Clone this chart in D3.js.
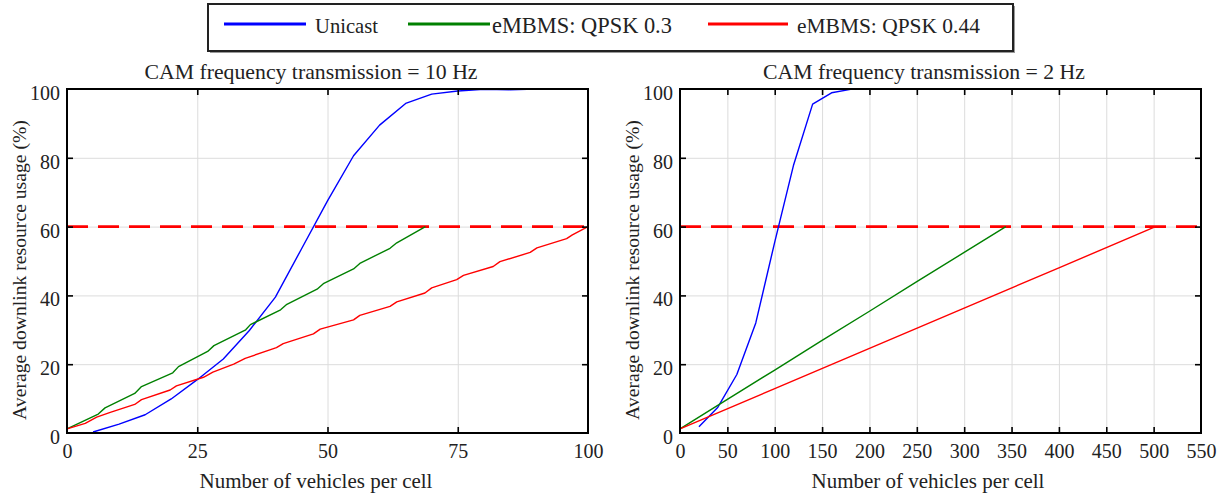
<!DOCTYPE html>
<html>
<head>
<meta charset="utf-8">
<script src="https://cdn.jsdelivr.net/npm/d3@7"></script>
<style>
  svg, svg text, svg g { font-family: "Liberation Serif", "Noto Serif", "DejaVu Serif", serif; }
</style>
</head>
<body style="margin:0;padding:0;background:#fff">
<svg id="chart" width="1227" height="497" style="display:block" font-family="Liberation Serif, Noto Serif, DejaVu Serif, serif"></svg>
<script>
// ---------------- DATA ----------------
const seriesNames = ["Unicast", "eMBMS: QPSK 0.3", "eMBMS: QPSK 0.44"];
const panelTitles = ["CAM frequency transmission = 10 Hz", "CAM frequency transmission = 2 Hz"];
const xLabel = "Number of vehicles per cell";
const yLabel = "Average downlink resource usage (%)";
const thresholdValue = 60;

// Panel 1: 10 Hz
const xTicks10 = [0, 25, 50, 75, 100];
const yTicks = [0, 20, 40, 60, 80, 100];
const unicast10X = [5, 10, 15, 20, 25, 30, 35, 40, 45, 50, 55, 60, 65, 70, 75, 80, 85, 90, 95, 100];
const unicast10Y = [0.3, 2.6, 5.3, 9.9, 15.5, 21.5, 29.8, 39.5, 53.5, 67.5, 80.6, 89.5, 95.8, 98.5, 99.4, 99.9, 99.8, 100, 100, 100];
const qpsk03_10X = [0, 6, 7.3, 13, 14.3, 20.3, 21.4, 27, 28.2, 34.3, 35.2, 41, 42.2, 48, 49.2, 55, 56.2, 62, 63.3, 68.8];
const qpsk03_10Y = [1.2, 5.5, 7.3, 11.5, 13.5, 17.5, 19.3, 23.7, 25.4, 30.0, 31.5, 35.8, 37.4, 41.8, 43.4, 47.7, 49.3, 53.7, 55.3, 60];
const qpsk044_10X = [0, 3.5, 5.7, 8.3, 13, 14.3, 19.8, 21, 26.2, 28, 32, 34.2, 40.2, 41.5, 47.3, 48.6, 55, 56.2, 62, 63.3, 68.7, 70, 74.8, 76.1, 81.8, 83.1, 88.9, 90.2, 95.9, 97, 100];
const qpsk044_10Y = [1.2, 2.8, 4.6, 6.0, 8.3, 9.7, 12.5, 13.7, 16.2, 17.7, 20.0, 21.7, 24.8, 26.0, 28.8, 30.2, 32.9, 34.2, 36.8, 38.1, 40.7, 42.2, 44.6, 45.8, 48.4, 49.8, 52.5, 53.8, 56.5, 57.6, 60];

// Panel 2: 2 Hz
const xTicks2 = [0, 50, 100, 150, 200, 250, 300, 350, 400, 450, 500, 550];
const unicast2X = [20, 40, 60, 80, 100, 120, 140, 160, 180, 200, 220, 240, 260];
const unicast2Y = [1.8, 7.5, 17, 32, 55.5, 78, 95.6, 98.9, 99.9, 100, 100, 100, 100];
const qpsk03_2X = [0, 50, 100, 150, 200, 250, 300, 344];
const qpsk03_2Y = [1.2, 9.8, 18.3, 26.9, 35.4, 44.0, 52.5, 60];
const qpsk044_2X = [0, 100, 200, 300, 400, 502];
const qpsk044_2Y = [1.2, 12.9, 24.6, 36.3, 48.0, 60];

const colors = ["#0000ff", "#008000", "#ff0000"];

// ---------------- HELPERS ----------------
const FONT_ATTR = "Liberation Serif, Noto Serif, DejaVu Serif, serif";
const FONT = '"Liberation Serif", "Noto Serif", "DejaVu Serif", serif';
const TEXT_COLOR = "#222";
function styleText(sel) {
  return sel.attr("font-family", FONT_ATTR).style("font-family", FONT).attr("fill", TEXT_COLOR);
}
function fitWidth(sel, target, base) {
  styleText(sel).attr("font-size", base).style("font-size", base + "px");
  const wNow = sel.node().getComputedTextLength();
  if (wNow > 0) {
    const fs = (base * target / wNow).toFixed(2);
    sel.attr("font-size", fs).style("font-size", fs + "px");
  }
  return sel;
}

// ---------------- LAYOUT ----------------
const svg = d3.select("#chart");
const panels = [
  { left: 67, right: 588, top: 89, bottom: 433, xDomain: [0, 100], xTicks: xTicks10, title: panelTitles[0], titleX: 311, titleW: 333, xLabelX: 316,
    series: [[unicast10X, unicast10Y], [qpsk03_10X, qpsk03_10Y], [qpsk044_10X, qpsk044_10Y]] },
  { left: 680, right: 1201, top: 89, bottom: 433, xDomain: [0, 550], xTicks: xTicks2, title: panelTitles[1], titleX: 924, titleW: 322, xLabelX: 928,
    series: [[unicast2X, unicast2Y], [qpsk03_2X, qpsk03_2Y], [qpsk044_2X, qpsk044_2Y]] }
];

const probe = svg.append("text").text("100");
fitWidth(probe, 30, 20);
const tickFont = probe.attr("font-size");
probe.remove();

panels.forEach(p => {
  const w = p.right - p.left, h = p.bottom - p.top;
  const x = d3.scaleLinear().domain(p.xDomain).range([0, w]);
  const y = d3.scaleLinear().domain([0, 100]).range([h, 0]);
  const g = svg.append("g").attr("transform", `translate(${p.left},${p.top})`);

  const innerX = p.xTicks.filter(v => v > p.xDomain[0] && v < p.xDomain[1]);
  const innerY = yTicks.filter(v => v > 0 && v < 100);

  // grid
  const gx = g.append("g").attr("transform", `translate(0,${h})`)
    .call(d3.axisBottom(x).tickValues(innerX).tickSize(-h).tickFormat(""));
  const gy = g.append("g")
    .call(d3.axisLeft(y).tickValues(innerY).tickSize(-w).tickFormat(""));
  [gx, gy].forEach(a => { a.select(".domain").remove(); a.selectAll("line").attr("stroke", "#dcdcdc").attr("stroke-width", 1); });

  // threshold dashed line
  g.append("line")
    .attr("x1", x(p.xDomain[0])).attr("x2", x(p.xDomain[1]))
    .attr("y1", y(thresholdValue)).attr("y2", y(thresholdValue))
    .attr("stroke", "#ff0000").attr("stroke-width", 2.6).attr("stroke-dasharray", "21,10");

  // series
  const line = d3.line().x(d => x(d[0])).y(d => y(d[1]));
  p.series.forEach((s, i) => {
    const pts = s[0].map((xv, k) => [xv, s[1][k]]);
    g.append("path").datum(pts).attr("d", line)
      .attr("fill", "none").attr("stroke", colors[i]).attr("stroke-width", 1.4)
      .attr("stroke-linejoin", "round");
  });

  // inward tick marks on four sides
  const tickStyle = a => { a.select(".domain").remove(); a.selectAll("line").attr("stroke", "#000").attr("stroke-width", 1.6); };
  tickStyle(g.append("g").attr("transform", `translate(0,${h})`).call(d3.axisBottom(x).tickValues(innerX).tickSize(-6).tickFormat("")));
  tickStyle(g.append("g").call(d3.axisTop(x).tickValues(innerX).tickSize(-6).tickFormat("")));
  tickStyle(g.append("g").call(d3.axisLeft(y).tickValues(innerY).tickSize(-6).tickFormat("")));
  tickStyle(g.append("g").attr("transform", `translate(${w},0)`).call(d3.axisRight(y).tickValues(innerY).tickSize(-6).tickFormat("")));

  // tick labels
  const bl = g.append("g").attr("transform", `translate(0,${h})`)
    .call(d3.axisBottom(x).tickValues(p.xTicks).tickSize(0).tickPadding(11).tickFormat(d3.format("d")));
  bl.select(".domain").remove();
  bl.attr("font-family", FONT_ATTR).attr("font-size", tickFont);
  styleText(bl.selectAll("text")).attr("font-size", tickFont).style("font-size", tickFont + "px");
  const ll = g.append("g")
    .call(d3.axisLeft(y).tickValues(yTicks).tickSize(0).tickPadding(7).tickFormat(d3.format("d")));
  ll.select(".domain").remove();
  ll.attr("font-family", FONT_ATTR).attr("font-size", tickFont);
  styleText(ll.selectAll("text")).attr("font-size", tickFont).style("font-size", tickFont + "px").attr("dy", "0.52em");

  // frame
  g.append("rect").attr("x", 0).attr("y", 0).attr("width", w).attr("height", h)
    .attr("fill", "none").attr("stroke", "#000").attr("stroke-width", 2);

  // title
  fitWidth(svg.append("text").attr("x", p.titleX).attr("y", 79).attr("text-anchor", "middle").text(p.title), p.titleW, 20);
  // x label
  fitWidth(svg.append("text").attr("x", p.xLabelX).attr("y", 488).attr("text-anchor", "middle").text(xLabel), 233, 20);
  // y label
  fitWidth(svg.append("text").attr("transform", `translate(${p.left - 41},${270}) rotate(-90)`)
    .attr("text-anchor", "middle").text(yLabel), 300, 19);
});

// ---------------- LEGEND ----------------
const legend = svg.append("g");
legend.append("rect").attr("x", 210).attr("y", 6).attr("width", 805).attr("height", 47).attr("fill", "#999");
legend.append("rect").attr("x", 208).attr("y", 4).attr("width", 805).attr("height", 47)
  .attr("fill", "#fff").attr("stroke", "#222").attr("stroke-width", 2);
const legendLineX = [[224, 306], [408, 490], [708, 788]];
const legendTextX = [315, 492, 797];
const legendTextW = [63, 180, 183];
seriesNames.forEach((name, i) => {
  legend.append("line").attr("x1", legendLineX[i][0]).attr("x2", legendLineX[i][1])
    .attr("y1", 24).attr("y2", 24).attr("stroke", colors[i]).attr("stroke-width", 2.8);
  fitWidth(legend.append("text").attr("x", legendTextX[i]).attr("y", 32.5).text(name), legendTextW[i], 20);
});
</script>
</body>
</html>
